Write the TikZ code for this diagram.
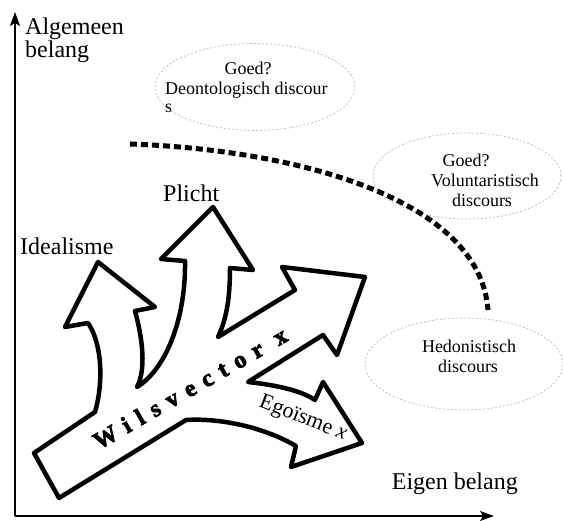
\documentclass[tikz,border=0pt]{standalone}
\usepackage{fontspec}
\setmainfont{Liberation Serif}
\newfontfamily\wilsfont[LetterSpace=38,FakeBold=3]{Liberation Serif}
\usetikzlibrary{arrows.meta,shapes.geometric}
\tikzset{
  axisline/.style={line width=1.2pt,-{Stealth[length=14pt,width=10pt,inset=3pt]}},
  bigarrow/.style={line width=4.5pt,line join=round,fill=white,draw=black},
  discours/.style={draw=gray!55,dashed,dash pattern=on 2pt off 2pt,line width=0.7pt,ellipse,inner sep=0pt},
  lbl/.style={font=\fontsize{24}{26}\selectfont,inner sep=0pt},
  etxt/.style={font=\fontsize{18}{20}\selectfont,inner sep=0pt},
  dotcurve/.style={line width=5pt,dash pattern=on 7pt off 4pt}
}
\begin{document}
\begin{tikzpicture}[x=1pt,y=-1pt]
\useasboundingbox (0,0) rectangle (563,521);
% axes
\coordinate (o) at (15,516);
\coordinate (ytip) at (15,12);
\coordinate (xtip) at (494,516);
\draw[axisline] (o) -- (ytip);
\draw[axisline] (o) -- (xtip);
\node[lbl,anchor=base west] (alg) at (25,35) {Algemeen};
\node[lbl,anchor=base west] (bel) at (25,58) {belang};
\node[lbl,anchor=base east] (eig) at (518,490) {Eigen belang};
% discourse ellipses
\node[discours,minimum width=200pt,minimum height=87pt] (e1) at (255,87) {};
\node[etxt,anchor=base] (g1) at (248,75) {Goed?};
\node[etxt,anchor=base west] (d1) at (165,95) {Deontologisch discour};
\node[etxt,anchor=base west] (s1) at (165,113) {s};
\node[discours,minimum width=188pt,minimum height=86pt] (e2) at (467,176) {};
\node[etxt,anchor=base] (g2) at (466,167) {Goed?};
\node[etxt,anchor=base] (v2) at (485,187) {Voluntaristisch};
\node[etxt,anchor=base] (d2) at (482,207) {discours};
\node[discours,minimum width=198pt,minimum height=92pt] (e3) at (464,364) {};
\node[etxt,anchor=base] (h3) at (469,353) {Hedonistisch};
\node[etxt,anchor=base] (d3) at (468,373) {discours};
% dotted boundary
\coordinate (c1) at (130,144);
\coordinate (c2) at (488,310);
\draw[dotcurve] (c1) .. controls (300,150) and (480,200) .. (c2);
% big branching arrow
\draw[bigarrow] (34,453) -- (95,412)
  .. controls (103,385) and (103,345) .. (88,323)
  -- (65,327) -- (98,262) -- (155,307) -- (135,311)
  .. controls (143,340) and (146,370) .. (137,387)
  .. controls (165,370) and (186,320) .. (185,261)
  -- (161,259) -- (213,207) -- (253,270) -- (230,268)
  .. controls (230,300) and (226,320) .. (218,337)
  -- (295,290) -- (282,267) -- (365,277) -- (337,355) -- (323,335)
  -- (248,382)
  .. controls (275,385) and (300,390) .. (315,400)
  -- (323,382) -- (362,443) -- (291,467) -- (296,446)
  .. controls (260,425) and (215,418) .. (186,420)
  -- (59,498) -- cycle;
\node[lbl,anchor=base west] (ideal) at (20,255) {Idealisme};
\node[lbl,anchor=base west] (plicht) at (163,202) {Plicht};
\node[inner sep=0pt,rotate=30,font=\wilsfont\bfseries\fontsize{24}{24}\selectfont] (wils) at (190,388) {Wilsvector x};
\node[inner sep=0pt,rotate=-21,font=\fontsize{22}{22}\selectfont] (ego) at (303,419) {Egoïsme \textit{x}};
\end{tikzpicture}
\end{document}
